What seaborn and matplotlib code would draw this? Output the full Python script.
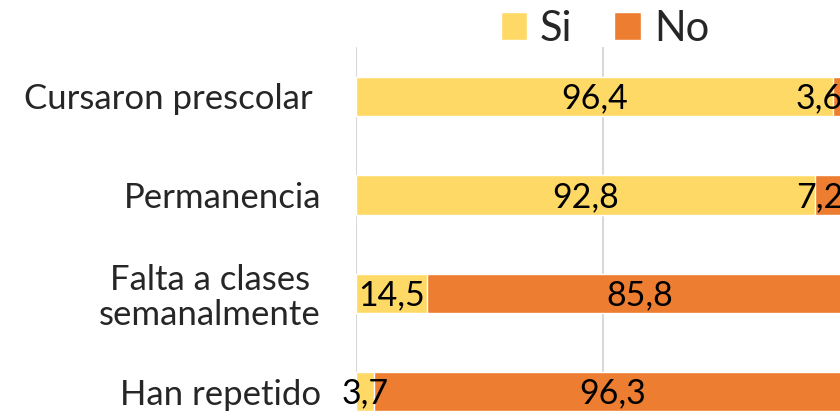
import matplotlib
matplotlib.use("Agg")
import matplotlib.pyplot as plt
from matplotlib.patches import Patch
import pandas as pd
import seaborn as sns

# data
categories = ["Cursaron prescolar ", "Permanencia", "Falta a clases\nsemanalmente", "Han repetido"]
si_values = [96.4, 92.8, 14.5, 3.7]
no_values = [3.6, 7.2, 85.8, 96.3]
series_names = ["Si", "No"]
colors = {"Si": "#FFD966", "No": "#ED7D31"}

sns.set_style("white")
plt.rcParams["font.family"] = ["Lato", "DejaVu Sans"]

df = pd.DataFrame({"categoria": categories, "Si": si_values, "No": no_values})
df["total"] = df["Si"] + df["No"]

fig = plt.figure(figsize=(8.4, 4.11), dpi=100)
# the original chart is cropped on the right and bottom, so the axes run past the figure
ax = fig.add_axes([0.4235, -0.073, 0.5888, 0.958])
ax.set_axisbelow(True)

# stacked bars: total in orange, Si drawn on top in yellow
sns.barplot(data=df, x="total", y="categoria", color=colors["No"], width=0.4,
            saturation=1, ax=ax, zorder=2)
sns.barplot(data=df, x="Si", y="categoria", color=colors["Si"], width=0.4,
            saturation=1, ax=ax, zorder=3)

def fmt(v):
    return f"{v:.1f}".replace(".", ",")

label_size = 24.5
# like Excel, labels that would run past the chart edge get pushed back inside
edge = 98.5
for i, row in df.iterrows():
    ax.text(row["Si"] / 2, i + 0.02, fmt(row["Si"]), ha="center", va="center",
            fontsize=label_size, color="black", zorder=5)
    mid = row["Si"] + row["No"] / 2
    if mid + 4.5 > edge:
        ax.text(edge, i + 0.02, fmt(row["No"]), ha="right", va="center",
                fontsize=label_size, color="black", zorder=5)
    else:
        ax.text(mid, i + 0.02, fmt(row["No"]), ha="center", va="center",
                fontsize=label_size, color="black", zorder=5)

ax.set_xlim(0, 100)
ax.set_ylim(len(categories) - 0.5, -0.5)
ax.set_xticks([0, 50, 100])
ax.grid(axis="x", color="#D9D9D9", linewidth=1.5)
ax.grid(axis="y", visible=False)
ax.tick_params(axis="x", length=0, labelbottom=False)
ax.tick_params(axis="y", length=0, pad=25, labelsize=25)
for tl in ax.get_yticklabels():
    tl.set_multialignment("center")
    tl.set_linespacing(1.1)
ax.set_xlabel("")
ax.set_ylabel("")
for s in ax.spines.values():
    s.set_visible(False)

handles = [Patch(facecolor=colors[n], label=n) for n in series_names]
fig.legend(handles=handles, loc="center", bbox_to_anchor=(0.72, 0.93), ncol=2,
           frameon=False, fontsize=30, handlelength=0.64, handleheight=0.64,
           handletextpad=0.31, columnspacing=1.0, borderpad=0)

fig.savefig("out.png", dpi=100)
